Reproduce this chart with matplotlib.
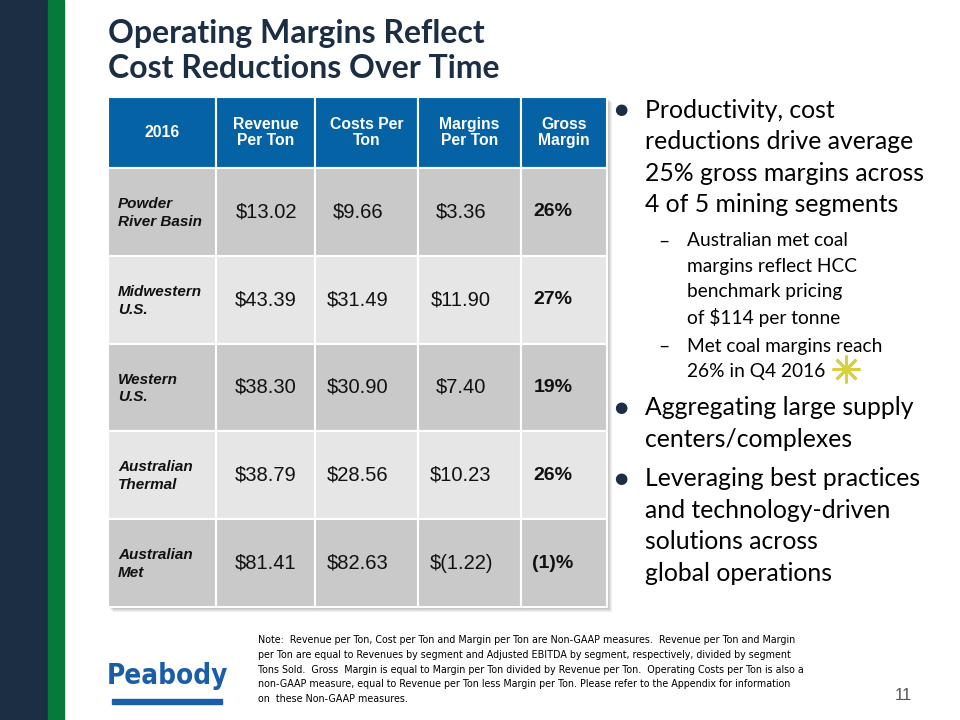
import matplotlib.pyplot as plt
from matplotlib.patches import Rectangle
from matplotlib import font_manager

# table data (2016)
headers = ["2016", "Revenue\nPer Ton", "Costs Per\nTon", "Margins\nPer Ton", "Gross\nMargin"]
segments = ["Powder\nRiver Basin", "Midwestern\nU.S.", "Western\nU.S.", "Australian\nThermal", "Australian\nMet"]
revenue = [13.02, 43.39, 38.30, 38.79, 81.41]
costs = [9.66, 31.49, 30.90, 28.56, 82.63]
margins = [3.36, 11.90, 7.40, 10.23, -1.22]
gross = [26, 27, 19, 26, -1]

bullets = [
    ("main", ["Productivity, cost", "reductions drive average", "25% gross margins across", "4 of 5 mining segments"]),
    ("sub", ["Australian met coal", "margins reflect HCC", "benchmark pricing", "of $114 per tonne"]),
    ("sub", ["Met coal margins reach", "26% in Q4 2016"]),
    ("main", ["Aggregating large supply", "centers/complexes"]),
    ("main", ["Leveraging best practices", "and technology-driven", "solutions across", "global operations"]),
]

note = ("Note:  Revenue per Ton, Cost per Ton and Margin per Ton are Non-GAAP measures.  Revenue per Ton and Margin\n"
        "per Ton are equal to Revenues by segment and Adjusted EBITDA by segment, respectively, divided by segment\n"
        "Tons Sold.  Gross  Margin is equal to Margin per Ton divided by Revenue per Ton.  Operating Costs per Ton is also a\n"
        "non-GAAP measure, equal to Revenue per Ton less Margin per Ton. Please refer to the Appendix for information\n"
        "on  these Non-GAAP measures.")


def money(v):
    return f"${v:.2f}" if v >= 0 else f"$({-v:.2f})"


def pct(v):
    return f"{v}%" if v >= 0 else f"({-v})%"


# pick a condensed face for the footnote and logo if one is installed
names = {f.name for f in font_manager.fontManager.ttflist}
narrow = "Liberation Sans Narrow" if "Liberation Sans Narrow" in names else "DejaVu Sans"

navy = "#1b2e44"
blue = "#0563a5"

fig = plt.figure(figsize=(9.6, 7.2), dpi=100)
ax = fig.add_axes([0, 0, 1, 1])
ax.set_xlim(0, 960)
ax.set_ylim(720, 0)
ax.axis("off")

# side bars
ax.add_patch(Rectangle((0, 0), 48, 720, color=navy))
ax.add_patch(Rectangle((48, 0), 16, 720, color="#067a3b"))

# title
ax.text(108, 33, "Operating Margins Reflect", fontsize=23, fontweight="bold", family="Lato", color=navy, va="center")
ax.text(108, 68, "Cost Reductions Over Time", fontsize=23, fontweight="bold", family="Lato", color=navy, va="center")

# table
col_edges = [108, 216, 315, 418, 521, 607]
top, head_h = 97, 71
row_h = (607 - top - head_h) / len(segments)
bottom = top + head_h + row_h * len(segments)

for k in range(1, 6):
    ax.add_patch(Rectangle((col_edges[0] + k, top + k), col_edges[-1] - col_edges[0], bottom - top,
                           color="black", alpha=0.06, lw=0))

for c in range(5):
    x0, x1 = col_edges[c], col_edges[c + 1]
    ax.add_patch(Rectangle((x0, top), x1 - x0, head_h, facecolor=blue, edgecolor="white", lw=1.5))
    ax.text((x0 + x1) / 2, top + head_h / 2, headers[c], color="white", fontsize=11.3, fontweight="bold",
            family="Liberation Sans", ha="center", va="center", linespacing=1.1)

num_x = [266, 358, 461, 553]
for r, seg in enumerate(segments):
    y0 = top + head_h + r * row_h
    fc = "#c9c9c9" if r % 2 == 0 else "#e6e6e6"
    for c in range(5):
        x0, x1 = col_edges[c], col_edges[c + 1]
        ax.add_patch(Rectangle((x0, y0), x1 - x0, row_h, facecolor=fc, edgecolor="white", lw=1.5))
    yc = y0 + row_h / 2
    ax.text(118, yc + 1, seg, fontsize=11, fontweight="bold", fontstyle="italic", family="Liberation Sans",
            ha="left", va="center", color="#111111", linespacing=1.35)
    vals = [money(revenue[r]), money(costs[r]), money(margins[r])]
    for i, s in enumerate(vals):
        ax.text(num_x[i], yc, s, fontsize=14.5, family="Liberation Sans", ha="center", va="center", color="#111111")
    ax.text(num_x[3], yc, pct(gross[r]), fontsize=14, fontweight="bold", family="Liberation Sans",
            ha="center", va="center", color="#111111")

# bullets
y = 110
prev = None
for kind, lines in bullets:
    if prev is not None:
        if kind == "main":
            y += 36 if prev == "sub" else 39
        else:
            y += 36 if prev == "main" else 29
    if kind == "main":
        ax.text(621, y, "\u25cf", fontsize=11, color=navy, ha="center", va="center", family="DejaVu Sans")
        for i, ln in enumerate(lines):
            ax.text(645, y + i * 31.6, ln, fontsize=17.8, family="Lato", color="black", va="center")
        y += (len(lines) - 1) * 31.6
    else:
        ax.text(664, y, "\u2013", fontsize=14, family="Lato", color="black", va="center", ha="center")
        for i, ln in enumerate(lines):
            ax.text(687, y + i * 25.5, ln, fontsize=13.8, family="Lato", color="black", va="center")
        y += (len(lines) - 1) * 25.5
        if lines[0].startswith("Met"):
            ax.plot([846], [369], marker=(8, 2, 0), markersize=20, mew=2, color="#d8d03c")
    prev = kind

# footer
ax.text(258, 635, note, fontsize=7.7, family=narrow, fontstretch="condensed", va="top",
        linespacing=1.6, color="black")
ax.text(167, 676, "Peabody", fontsize=20, fontweight="bold", family=narrow, fontstretch="condensed",
        color="#1a5ea8", ha="center", va="center")
ax.add_patch(Rectangle((112, 699), 110, 5, color="#1a5ea8"))
ax.text(912, 695, "11", fontsize=12, family="Liberation Sans", color="#555555", ha="right", va="center")

fig.savefig("out.png", dpi=100)
